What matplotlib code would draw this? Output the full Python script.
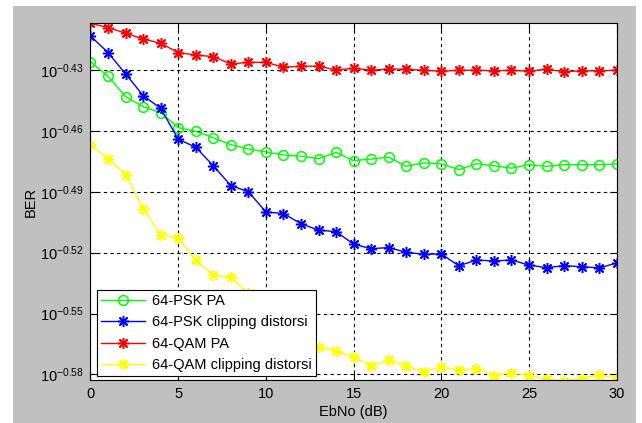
import numpy as np
import matplotlib
matplotlib.use("Agg")
import matplotlib.pyplot as plt
from matplotlib.patches import Rectangle

plt.rcParams["font.family"] = ["Liberation Sans", "DejaVu Sans"]
plt.rcParams["mathtext.fontset"] = "custom"
plt.rcParams["mathtext.rm"] = "Liberation Sans"
plt.rcParams["mathtext.default"] = "regular"

ebno = np.arange(0, 31)

# BER exponents (log10) per curve
psk_pa = [-0.4258, -0.4330, -0.4430, -0.4480, -0.4509, -0.4583, -0.4601, -0.4633,
          -0.4667, -0.4688, -0.4703, -0.4718, -0.4724, -0.4736, -0.4705, -0.4746,
          -0.4738, -0.4729, -0.4774, -0.4757, -0.4762, -0.4790, -0.4761, -0.4771,
          -0.4783, -0.4766, -0.4774, -0.4766, -0.4766, -0.4766, -0.4762]
psk_clip = [-0.4131, -0.4213, -0.4318, -0.4425, -0.4488, -0.4640, -0.4680, -0.4771,
            -0.4869, -0.4899, -0.4999, -0.5007, -0.5057, -0.5089, -0.5096, -0.5158,
            -0.5180, -0.5175, -0.5198, -0.5208, -0.5206, -0.5265, -0.5236, -0.5241,
            -0.5236, -0.5261, -0.5274, -0.5264, -0.5269, -0.5275, -0.5251]
qam_pa = [-0.4068, -0.4090, -0.4117, -0.4146, -0.4167, -0.4213, -0.4225, -0.4233,
          -0.4269, -0.4261, -0.4261, -0.4285, -0.4280, -0.4280, -0.4299, -0.4290,
          -0.4300, -0.4294, -0.4295, -0.4300, -0.4305, -0.4300, -0.4300, -0.4303,
          -0.4300, -0.4305, -0.4295, -0.4307, -0.4303, -0.4303, -0.4300]
qam_clip = [-0.4669, -0.4736, -0.4815, -0.4984, -0.5111, -0.5127, -0.5236, -0.5311,
            -0.5321, -0.5400, -0.5480, -0.5550, -0.5610, -0.5664, -0.5685, -0.5716,
            -0.5757, -0.5729, -0.5757, -0.5787, -0.5762, -0.5780, -0.5772, -0.5806,
            -0.5792, -0.5806, -0.5824, -0.5832, -0.5822, -0.5801, -0.5822]

ytick_exp = [-0.58, -0.55, -0.52, -0.49, -0.46, -0.43]
xticks = [0, 5, 10, 15, 20, 25, 30]

fig = plt.figure(figsize=(6.42, 4.23), dpi=100, facecolor="white")
# grey figure panel with a thin white border
fig.patches.append(Rectangle((13 / 642, 0), (636 - 13) / 642, 1 - 6 / 423,
                             transform=fig.transFigure, facecolor="#c0c0c0",
                             edgecolor="none", zorder=-10))

ax = fig.add_axes([90.5 / 642, 1 - 380 / 423, (616.7 - 90.5) / 642, (380 - 23) / 423])
ax.set_facecolor("white")

asterisk = (8, 2, 0)  # plus + cross, like MATLAB's '*'
series = [
    (psk_pa, "#00ff00", "o", "64-PSK PA"),
    (psk_clip, "#0000ff", asterisk, "64-PSK clipping distorsi"),
    (qam_pa, "#ff0000", asterisk, "64-QAM PA"),
    (qam_clip, "#ffff00", asterisk, "64-QAM clipping distorsi"),
]
for vals, color, marker, label in series:
    ms = 7 if marker == "o" else 8
    ax.plot(ebno, 10 ** np.array(vals), color=color, marker=marker, markersize=ms,
            markerfacecolor="none", markeredgecolor=color, markeredgewidth=1.1,
            linewidth=1, label=label)

ax.set_yscale("log")
ax.set_xlim(0, 30)
ax.set_ylim(10 ** -0.5828, 10 ** -0.4067)
ax.set_xticks(xticks)
ax.set_yticks([10 ** e for e in ytick_exp])
ax.set_yticklabels([r"$10^{%.2f}$" % e for e in ytick_exp])
ax.yaxis.set_minor_locator(matplotlib.ticker.NullLocator())
ax.tick_params(direction="in", top=True, right=True, labelsize=10.5, length=5, pad=5)

ax.grid(True, color="black", linestyle=(0, (3, 3)), linewidth=0.8)
for s in ax.spines.values():
    s.set_linewidth(0.8)

ax.set_xlabel("EbNo (dB)", fontsize=10.5, labelpad=3)
ax.set_ylabel("BER", fontsize=10.5, labelpad=1)

leg = ax.legend(loc="lower left", bbox_to_anchor=(0.012, 0.01), fontsize=10.5,
                frameon=True, fancybox=False, edgecolor="black", framealpha=1,
                borderpad=0.3, labelspacing=0.5, handlelength=3.0,
                handletextpad=0.45, borderaxespad=0.0)
leg.get_frame().set_linewidth(0.8)

fig.savefig("out.png", dpi=100, facecolor=fig.get_facecolor())
